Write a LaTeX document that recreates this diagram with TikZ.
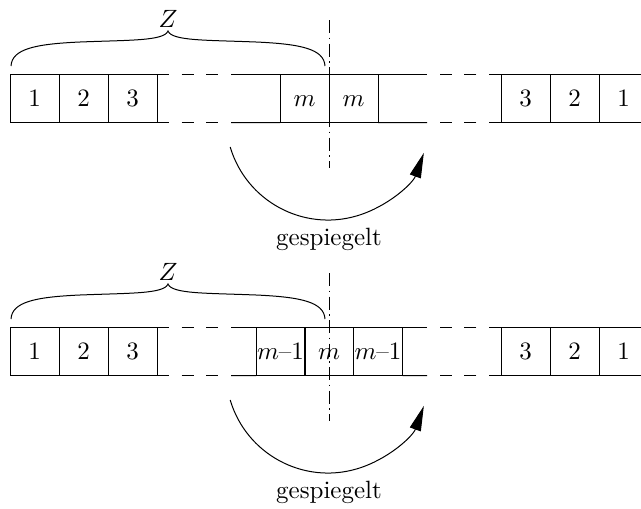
\documentclass[tikz,border=0pt]{standalone}
\usetikzlibrary{arrows.meta}
\begin{document}
\begin{tikzpicture}[x=0.4pt,y=-0.4pt,
  cell/.style={draw, minimum width=19.6pt, minimum height=19.4pt, inner sep=0pt,
    outer sep=0pt, text height=6.5pt, text depth=0pt, anchor=north west},
  gapdash/.style={dash pattern=on 4.8pt off 5.07pt},
  axisline/.style={dash pattern=on 5.2pt off 1.8pt on 0.6pt off 1.8pt},
  turn/.style={-{Triangle[length=10pt,width=4.6pt]}}]
\useasboundingbox (0,0) rectangle (641,508);
\clip (0,0) rectangle (641,508);
\foreach \o/\r in {0/t,253/b}{
  \node[cell] (\r1) at (10,{74+\o}) {1};
  \node[cell] (\r2) at (59,{74+\o}) {2};
  \node[cell] (\r3) at (108,{74+\o}) {3};
  \node[cell] (\r3x) at (501,{74+\o}) {3};
  \node[cell] (\r2x) at (550,{74+\o}) {2};
  \node[cell] (\r1x) at (599,{74+\o}) {1};
  \draw[gapdash] (\r3.north east) -- ++(74,0);
  \draw[gapdash] (\r3.south east) -- ++(74,0);
  \draw[gapdash] (\r3x.north west) -- ++(-74,0);
  \draw[gapdash] (\r3x.south west) -- ++(-74,0);
  \coordinate (\r LT) at (231,{74+\o});
  \coordinate (\r LB) at (231,{122.5+\o});
  \coordinate (\r RT) at (427,{74+\o});
  \coordinate (\r RB) at (427,{122.5+\o});
  % brace
  \draw (11,{66+\o}) .. controls (12,{49+\o}) and (35,{44+\o}) .. (80,{42+\o})
     .. controls (130,{40+\o}) and (164,{41+\o}) .. (168,{31+\o})
     .. controls (172,{41+\o}) and (206,{40+\o}) .. (256,{42+\o})
     .. controls (301,{44+\o}) and (324,{49+\o}) .. (325,{66+\o});
  \node (\r Z) at (168,{19+\o}) {$Z$};
  % arc
  \coordinate (\r A) at (230.2,{147+\o});
  \draw[turn] (\r A) arc[start angle=163.5, end angle=20, radius=102];
  \node (\r g) at (329,{239+\o}) {gespiegelt};
}
% top middle
\node[cell] (tm1) at (280,74) {$m$};
\node[cell] (tm2) at (329,74) {$m$};
\draw (tLT) -- (tm1.north west);
\draw (tLB) -- (tm1.south west);
\draw (tm2.north east) -- (tRT);
\draw (tm2.south east) -- (tRB);
\coordinate (tax1) at (329,20);
\coordinate (tax2) at (329,168);
\draw[axisline] (tax1) -- (tax2);
% bottom middle
\node[cell] (bm1) at (256,327) {$m$--1};
\node[cell] (bm) at (304.5,327) {$m$};
\node[cell] (bm2) at (353.5,327) {$m$--1};
\draw (bLT) -- (bm1.north west);
\draw (bLB) -- (bm1.south west);
\draw (bm2.north east) -- (bRT);
\draw (bm2.south east) -- (bRB);
\coordinate (bax1) at (329,273);
\coordinate (bax2) at (329,421);
\draw[axisline] (bax1) -- (bax2);
\end{tikzpicture}
\end{document}
